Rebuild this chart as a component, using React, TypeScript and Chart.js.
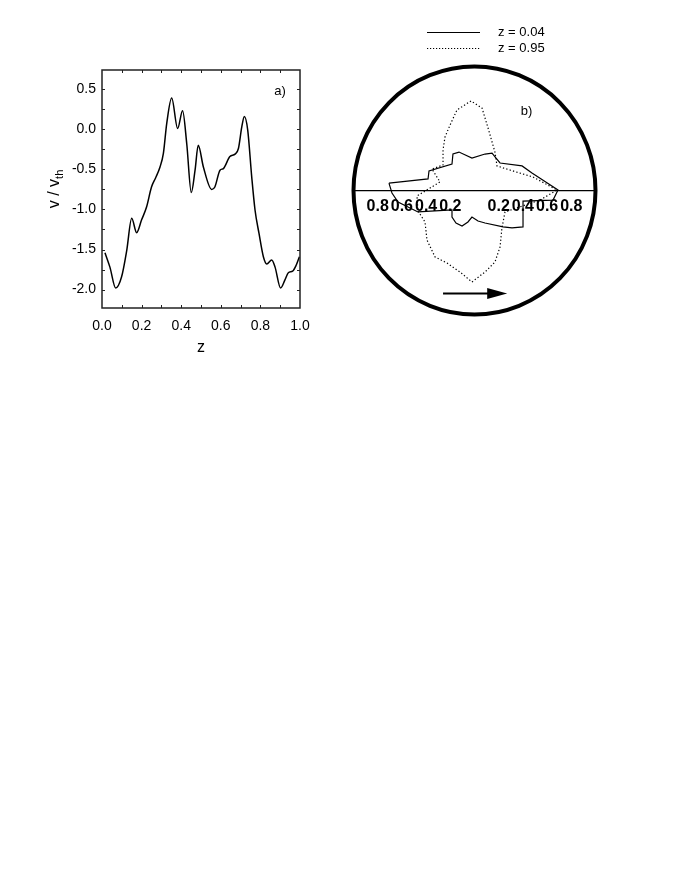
import React, { useEffect, useRef } from 'react';
import { Chart, registerables } from 'chart.js';

Chart.register(...registerables);

const FONT = "'Liberation Sans', Arial, Helvetica, sans-serif";

// ---------- Panel a) : v / v_th versus z ----------
const zValues = [
  0.015, 0.04, 0.069, 0.099, 0.125, 0.15, 0.175, 0.2, 0.225, 0.25, 0.27, 0.293, 0.31, 0.327,
  0.352, 0.382, 0.407, 0.428, 0.451, 0.47, 0.486, 0.512, 0.554, 0.57, 0.596, 0.613, 0.646,
  0.672, 0.689, 0.706, 0.719, 0.736, 0.756, 0.773, 0.793, 0.815, 0.832, 0.857, 0.874, 0.902,
  0.924, 0.941, 0.963, 0.98, 0.997,
];
const vValues = [
  -1.54, -1.72, -1.98, -1.84, -1.51, -1.11, -1.29, -1.13, -0.97, -0.72, -0.61, -0.47, -0.3, 0.075,
  0.39, 0.01, 0.23, -0.18, -0.79, -0.51, -0.2, -0.47, -0.75, -0.72, -0.51, -0.49, -0.34,
  -0.31, -0.24, 0.03, 0.16, -0.01, -0.59, -1.01, -1.3, -1.59, -1.68, -1.63, -1.72, -1.98,
  -1.88, -1.79, -1.77, -1.7, -1.59,
];
const zTicks = [0.0, 0.2, 0.4, 0.6, 0.8, 1.0];
const vTicks = [-2.0, -1.5, -1.0, -0.5, 0.0, 0.5];
const zMinorTicks = [0.1, 0.2, 0.3, 0.4, 0.5, 0.6, 0.7, 0.8, 0.9];
const vMinorTicks = [-2.0, -1.75, -1.5, -1.25, -1.0, -0.75, -0.5, -0.25, 0.0, 0.25, 0.5];
const xTitleA = 'z';
const yTitleMain = 'v / v';
const yTitleSub = 'th';
const labelA = 'a)';

// ---------- Panel b) : polar-like distribution inside the unit circle ----------
const seriesNames = ['z = 0.04', 'z = 0.95'];
const solidX = [
  -0.707, -0.384, -0.376, -0.186, -0.178, -0.128, -0.021, 0.087, 0.145, 0.178, 0.211, 0.393,
  0.475, 0.69, 0.649, 0.401, 0.401, 0.31, 0.236, 0.087, 0.029, -0.021, -0.054, -0.103, -0.153,
  -0.186, -0.186, -0.467, -0.632, -0.682,
];
const solidY = [
  0.06, 0.093, 0.157, 0.214, 0.294, 0.31, 0.262, 0.294, 0.302, 0.262, 0.222, 0.198,
  0.141, 0.004, -0.077, -0.085, -0.294, -0.302, -0.294, -0.262, -0.246, -0.214, -0.254, -0.286, -0.262,
  -0.214, -0.157, -0.173, -0.093, -0.02,
];
const dottedX = [
  -0.029, -0.145, -0.202, -0.244, -0.26, -0.26, -0.351, -0.285, -0.475, -0.467, -0.409, -0.393,
  -0.326, -0.227, -0.12, -0.021, 0.087, 0.169, 0.211, 0.227, 0.252, 0.541, 0.682, 0.483, 0.293,
  0.186, 0.169, 0.112, 0.062,
];
const dottedY = [
  0.722, 0.649, 0.528, 0.431, 0.327, 0.206, 0.173, 0.069, -0.044, -0.165, -0.254, -0.399,
  -0.536, -0.585, -0.657, -0.738, -0.657, -0.577, -0.456, -0.302, -0.173, -0.077, 0.004, 0.109, 0.165,
  0.198, 0.31, 0.504, 0.665,
];
const bTicks = [-0.8, -0.6, -0.4, -0.2, 0.2, 0.4, 0.6, 0.8];
const circleRadius = 1;
const arrowX = [-0.26, 0.27];
const arrowY = -0.83;
const labelB = 'b)';
const labelBPos = [0.43, 0.635];

function closedPoints(xs: number[], ys: number[]) {
  const pts = xs.map((x, i) => ({ x, y: ys[i] }));
  pts.push({ x: xs[0], y: ys[0] });
  return pts;
}

const panelAPlugin = {
  id: 'panelADecor',
  afterDraw(chart: any) {
    const { ctx, chartArea, scales } = chart;
    const { left, right, top, bottom } = chartArea;
    const xs = scales.x;
    const ys = scales.y;
    ctx.save();
    ctx.strokeStyle = '#222';
    ctx.lineWidth = 1.5;
    ctx.strokeRect(left, top, right - left, bottom - top);
    ctx.lineWidth = 1;
    const tl = 3;
    ctx.beginPath();
    zMinorTicks.forEach((v) => {
      const px = Math.round(xs.getPixelForValue(v)) + 0.5;
      ctx.moveTo(px, bottom);
      ctx.lineTo(px, bottom - tl);
      ctx.moveTo(px, top);
      ctx.lineTo(px, top + tl);
    });
    vMinorTicks.forEach((v) => {
      const py = Math.round(ys.getPixelForValue(v)) + 0.5;
      ctx.moveTo(left, py);
      ctx.lineTo(left + tl, py);
      ctx.moveTo(right, py);
      ctx.lineTo(right - tl, py);
    });
    ctx.stroke();

    // y-axis title with subscript
    ctx.fillStyle = '#000';
    ctx.textBaseline = 'alphabetic';
    ctx.textAlign = 'left';
    const mainFont = `16px ${FONT}`;
    const subFont = `11px ${FONT}`;
    ctx.font = mainFont;
    const w1 = ctx.measureText(yTitleMain).width;
    ctx.font = subFont;
    const w2 = ctx.measureText(yTitleSub).width;
    const total = w1 + w2;
    ctx.translate(59, (top + bottom) / 2);
    ctx.rotate(-Math.PI / 2);
    ctx.font = mainFont;
    ctx.fillText(yTitleMain, -total / 2, 0);
    ctx.font = subFont;
    ctx.fillText(yTitleSub, -total / 2 + w1, 4);
    ctx.restore();

    ctx.save();
    ctx.fillStyle = '#000';
    ctx.font = `13px ${FONT}`;
    ctx.textAlign = 'center';
    ctx.textBaseline = 'middle';
    ctx.fillText(labelA, right - 20, top + 21);
    ctx.restore();
  },
};

const panelBPlugin = {
  id: 'panelBDecor',
  afterDraw(chart: any) {
    const { ctx, scales } = chart;
    const xs = scales.x;
    const ys = scales.y;
    const cx = xs.getPixelForValue(0);
    const cy = ys.getPixelForValue(0);
    const rx = xs.getPixelForValue(circleRadius) - cx;
    const ry = cy - ys.getPixelForValue(circleRadius);
    ctx.save();
    ctx.strokeStyle = '#000';
    ctx.lineWidth = 4;
    ctx.beginPath();
    ctx.ellipse(cx, cy, rx, ry, 0, 0, Math.PI * 2);
    ctx.stroke();

    // arrow
    const ax0 = xs.getPixelForValue(arrowX[0]);
    const ax1 = xs.getPixelForValue(arrowX[1]);
    const ay = ys.getPixelForValue(arrowY);
    const head = 20;
    ctx.lineWidth = 2;
    ctx.beginPath();
    ctx.moveTo(ax0, ay);
    ctx.lineTo(ax1 - head + 2, ay);
    ctx.stroke();
    ctx.fillStyle = '#000';
    ctx.beginPath();
    ctx.moveTo(ax1, ay);
    ctx.lineTo(ax1 - head, ay - 5.5);
    ctx.lineTo(ax1 - head, ay + 5.5);
    ctx.closePath();
    ctx.fill();

    // panel label
    ctx.font = `13px ${FONT}`;
    ctx.textAlign = 'center';
    ctx.textBaseline = 'middle';
    ctx.fillText(labelB, xs.getPixelForValue(labelBPos[0]), ys.getPixelForValue(labelBPos[1]));

    // legend
    const lx0 = 87;
    const lx1 = 140;
    const rows = [32.5, 48.5];
    ctx.lineWidth = 1;
    rows.forEach((y, i) => {
      ctx.setLineDash(i === 0 ? [] : [1.2, 1.8]);
      ctx.beginPath();
      ctx.moveTo(lx0, y);
      ctx.lineTo(lx1, y);
      ctx.stroke();
      ctx.setLineDash([]);
      ctx.textAlign = 'left';
      ctx.fillText(seriesNames[i], 158, y);
    });
    ctx.restore();
  },
};

export default function App() {
  const refA = useRef<HTMLCanvasElement>(null);
  const refB = useRef<HTMLCanvasElement>(null);

  useEffect(() => {
    const chartA = new Chart(refA.current as HTMLCanvasElement, {
      type: 'scatter',
      data: {
        datasets: [
          {
            data: zValues.map((z, i) => ({ x: z, y: vValues[i] })),
            showLine: true,
            borderColor: '#000',
            borderWidth: 1.5,
            pointRadius: 0,
            cubicInterpolationMode: 'monotone',
            fill: false,
          } as any,
        ],
      },
      options: {
        animation: false,
        responsive: false,
        devicePixelRatio: 1,
        layout: { padding: { left: 0, top: 70, right: 30, bottom: 0 } },
        plugins: { legend: { display: false }, tooltip: { enabled: false } },
        scales: {
          x: {
            type: 'linear',
            min: 0,
            max: 1,
            position: 'bottom',
            afterBuildTicks: (s: any) => {
              s.ticks = zTicks.map((v) => ({ value: v }));
            },
            afterFit: (s: any) => {
              s.height = 62;
            },
            grid: { display: false, drawTicks: false },
            border: { display: false },
            ticks: {
              padding: 10,
              color: '#000',
              autoSkip: false,
              maxRotation: 0,
              font: { family: FONT, size: 14 },
              callback: (v: any) => Number(v).toFixed(1),
            },
            title: {
              display: true,
              text: xTitleA,
              color: '#000',
              font: { family: FONT, size: 16 },
              padding: { top: 0, bottom: 13 },
            },
          },
          y: {
            type: 'linear',
            min: -2.23,
            max: 0.74,
            afterBuildTicks: (s: any) => {
              s.ticks = vTicks.map((v) => ({ value: v }));
            },
            afterFit: (s: any) => {
              s.width = 102;
            },
            grid: { display: false, drawTicks: false },
            border: { display: false },
            ticks: {
              padding: 6,
              color: '#000',
              autoSkip: false,
              font: { family: FONT, size: 14 },
              callback: (v: any) => Number(v).toFixed(1),
            },
          },
        },
      } as any,
      plugins: [panelAPlugin],
    });

    const chartB = new Chart(refB.current as HTMLCanvasElement, {
      type: 'scatter',
      data: {
        datasets: [
          {
            label: seriesNames[0],
            data: closedPoints(solidX, solidY),
            showLine: true,
            borderColor: '#000',
            borderWidth: 1.2,
            pointRadius: 0,
            tension: 0,
            fill: false,
          },
          {
            label: seriesNames[1],
            data: closedPoints(dottedX, dottedY),
            showLine: true,
            borderColor: '#000',
            borderWidth: 1.2,
            borderDash: [1.3, 2.2],
            pointRadius: 0,
            tension: 0,
            fill: false,
          },
        ],
      },
      options: {
        animation: false,
        responsive: false,
        devicePixelRatio: 1,
        layout: { padding: { left: 13.5, right: 84.5, top: 66.5, bottom: 25.5 } },
        plugins: { legend: { display: false }, tooltip: { enabled: false } },
        scales: {
          x: {
            type: 'linear',
            min: -1,
            max: 1,
            position: { y: 0 },
            afterBuildTicks: (s: any) => {
              s.ticks = bTicks.map((v) => ({ value: v }));
            },
            afterFit: (s: any) => {
              s.height = 0;
            },
            grid: { display: false, drawTicks: false },
            border: { display: true, color: '#000', width: 1.2 },
            ticks: {
              autoSkip: false,
              minRotation: 0,
              maxRotation: 0,
              padding: 6.5,
              color: '#000',
              font: { family: FONT, size: 16, weight: 'bold' },
              callback: (v: any) => Math.abs(Number(v)).toFixed(1),
            },
          },
          y: { type: 'linear', min: -1, max: 1, display: false },
        },
      } as any,
      plugins: [panelBPlugin],
    });

    return () => {
      chartA.destroy();
      chartB.destroy();
    };
  }, []);

  return (
    <div style={{ position: 'absolute', left: 0, top: 0, width: 680, height: 880, background: '#fff' }}>
      <canvas
        ref={refA}
        width={330}
        height={370}
        style={{ position: 'absolute', left: 0, top: 0, width: 330, height: 370 }}
      />
      <canvas
        ref={refB}
        width={340}
        height={340}
        style={{ position: 'absolute', left: 340, top: 0, width: 340, height: 340 }}
      />
    </div>
  );
}
